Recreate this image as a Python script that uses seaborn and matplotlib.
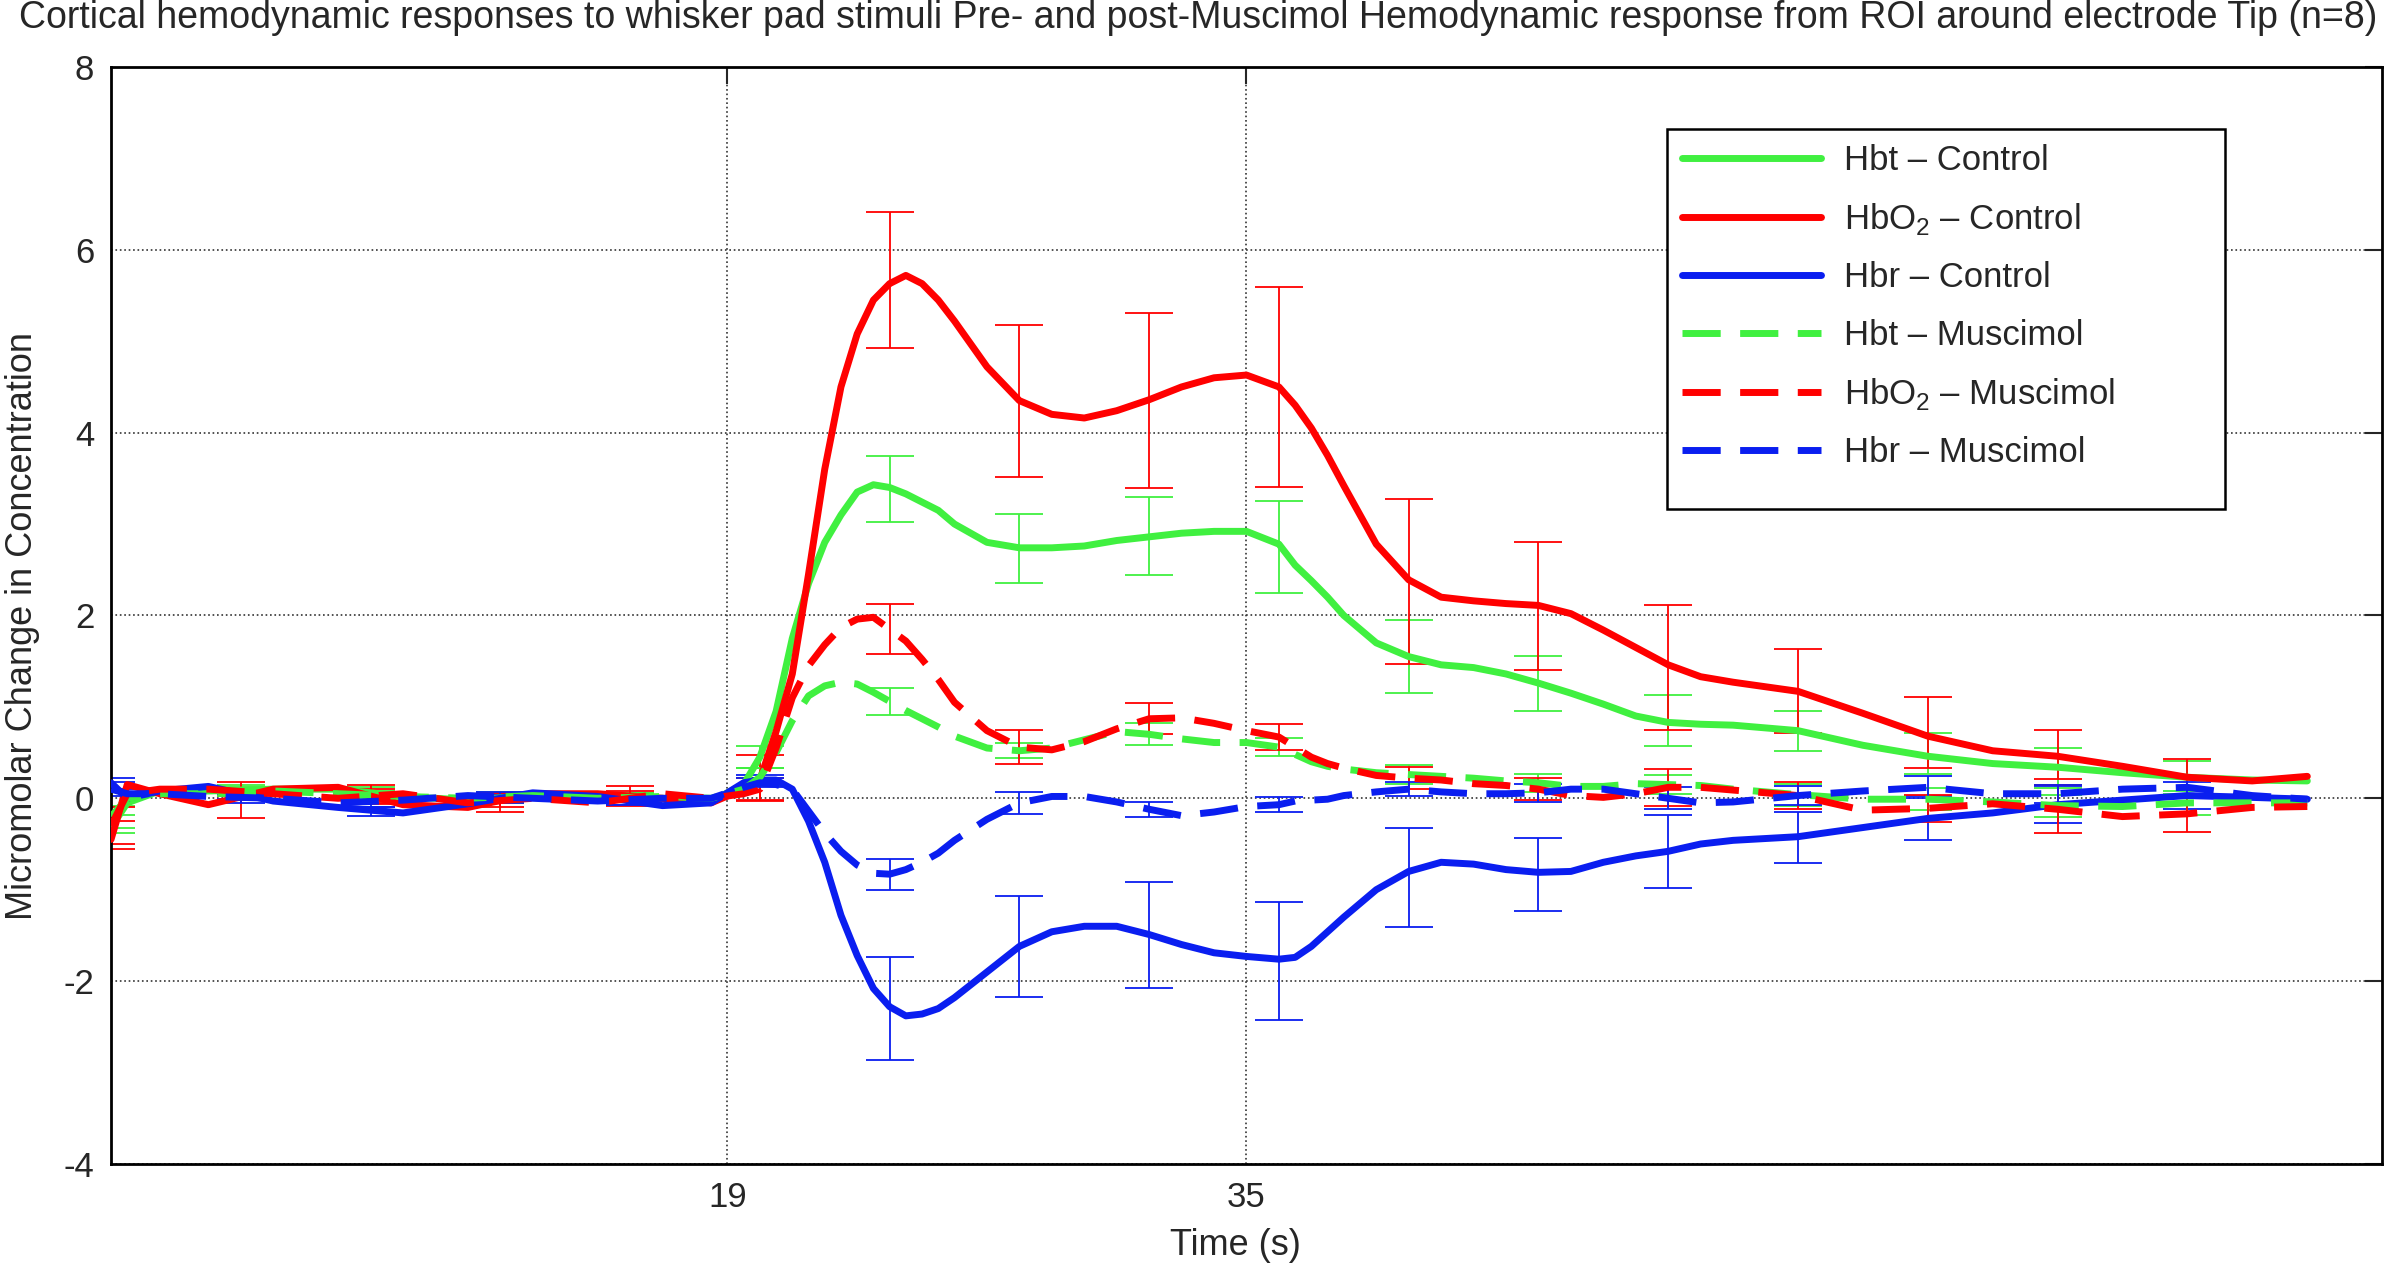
import numpy as np
import pandas as pd
import matplotlib
matplotlib.use('Agg')
import matplotlib.pyplot as plt
from matplotlib.patches import Rectangle
import seaborn as sns

# time grid (s) of the read-off curve points
t = [0, 0.5, 1.5, 3, 5, 7, 9, 11, 13, 15, 17, 18.5, 19.5, 20, 20.5, 21, 21.5, 22, 22.5, 23,
     23.5, 24, 24.5, 25, 25.5, 26, 27, 28, 29, 30, 31, 32, 33, 34, 35, 36, 36.5, 37, 37.5, 38,
     39, 40, 41, 42, 43, 44, 45, 46, 47, 48, 49, 50, 52, 54, 56, 58, 60, 62, 64, 66, 67.7]

hbo2_ctrl = [-0.45, 0.15, 0.05, -0.07, 0.1, 0.12, -0.07, -0.1, 0.05, 0.05, 0.0, -0.05, 0.1, 0.2, 0.73, 1.36,
             2.45, 3.6, 4.5, 5.08, 5.45, 5.63, 5.72, 5.63, 5.45, 5.22, 4.72, 4.35, 4.2, 4.16, 4.24, 4.36,
             4.5, 4.6, 4.63, 4.5, 4.3, 4.05, 3.75, 3.42, 2.78, 2.39, 2.2, 2.16, 2.13, 2.11, 2.02, 1.84,
             1.65, 1.46, 1.33, 1.27, 1.17, 0.93, 0.68, 0.52, 0.46, 0.35, 0.23, 0.19, 0.24]
hbt_ctrl = [-0.32, -0.05, 0.08, 0.08, 0.1, 0.1, 0.02, -0.02, 0.03, 0.02, 0.0, -0.03, 0.15, 0.45, 0.95, 1.75,
            2.35, 2.8, 3.1, 3.35, 3.43, 3.4, 3.33, 3.24, 3.15, 3.0, 2.8, 2.74, 2.74, 2.76, 2.82, 2.86,
            2.9, 2.92, 2.92, 2.78, 2.55, 2.38, 2.2, 2.0, 1.7, 1.55, 1.46, 1.43, 1.36, 1.26, 1.15, 1.03,
            0.9, 0.83, 0.81, 0.8, 0.74, 0.58, 0.46, 0.38, 0.34, 0.28, 0.23, 0.2, 0.19]
hbr_ctrl = [0.17, 0.0, 0.08, 0.13, -0.03, -0.1, -0.16, -0.06, 0.06, 0.02, -0.08, -0.05, 0.17, 0.2, 0.2, 0.1,
            -0.25, -0.7, -1.28, -1.72, -2.08, -2.28, -2.38, -2.36, -2.3, -2.18, -1.9, -1.62, -1.46, -1.4,
            -1.4, -1.49, -1.6, -1.69, -1.73, -1.76, -1.74, -1.62, -1.46, -1.3, -1.0, -0.8, -0.7, -0.72,
            -0.78, -0.81, -0.8, -0.7, -0.63, -0.58, -0.5, -0.46, -0.42, -0.32, -0.22, -0.16, -0.07, -0.02,
            0.03, 0.01, -0.01]
hbt_musc = [-0.2, 0.0, 0.05, 0.05, 0.08, 0.05, 0.02, 0.0, 0.03, 0.0, 0.02, 0.0, 0.1, 0.23, 0.5, 0.85,
            1.12, 1.23, 1.27, 1.25, 1.16, 1.06, 0.96, 0.87, 0.78, 0.68, 0.55, 0.52, 0.55, 0.64, 0.73, 0.7,
            0.65, 0.61, 0.61, 0.56, 0.48, 0.4, 0.35, 0.32, 0.28, 0.26, 0.24, 0.22, 0.19, 0.17, 0.13, 0.13,
            0.16, 0.15, 0.14, 0.1, 0.04, -0.01, -0.01, -0.04, -0.08, -0.09, -0.05, -0.05, -0.05]
hbo2_musc = [-0.3, 0.05, 0.1, 0.1, 0.05, 0.0, 0.05, -0.05, 0.0, -0.05, 0.05, 0.0, 0.05, 0.1, 0.55, 1.1,
             1.45, 1.68, 1.87, 1.96, 1.98, 1.85, 1.72, 1.52, 1.3, 1.05, 0.74, 0.56, 0.53, 0.62, 0.76, 0.87,
             0.88, 0.82, 0.74, 0.67, 0.56, 0.45, 0.38, 0.33, 0.25, 0.22, 0.2, 0.16, 0.14, 0.1, 0.03, 0.01,
             0.05, 0.12, 0.12, 0.09, 0.03, -0.13, -0.11, -0.06, -0.12, -0.2, -0.17, -0.1, -0.09]
hbr_musc = [0.1, 0.05, 0.05, 0.02, 0.0, -0.05, -0.02, 0.03, 0.0, -0.03, 0.0, 0.0, 0.12, 0.17, 0.15, 0.1,
            -0.14, -0.38, -0.58, -0.73, -0.82, -0.83, -0.78, -0.7, -0.6, -0.46, -0.23, -0.05, 0.02, 0.02,
            -0.04, -0.12, -0.19, -0.15, -0.09, -0.07, -0.03, -0.02, -0.01, 0.03, 0.07, 0.1, 0.07, 0.05,
            0.05, 0.06, 0.1, 0.1, 0.05, 0.0, -0.05, -0.04, 0.03, 0.08, 0.12, 0.05, 0.05, 0.1, 0.12, 0.03,
            -0.01]

# error bars every 4 s: mean and half-width
t_bar = [0, 4, 8, 12, 16, 20, 24, 28, 32, 36, 40, 44, 48, 52, 56, 60, 64]
hbt_ctrl_m = [-0.28, 0.09, 0.06, 0.0, 0.01, 0.45, 3.38, 2.73, 2.87, 2.75, 1.55, 1.26, 0.85, 0.74, 0.49, 0.33, 0.23]
hbt_ctrl_e = [0.1, 0.06, 0.06, 0.05, 0.05, 0.12, 0.36, 0.38, 0.43, 0.5, 0.4, 0.3, 0.28, 0.22, 0.22, 0.22, 0.18]
hbo2_ctrl_m = [-0.4, -0.1, 0.05, -0.05, 0.05, 0.22, 5.67, 4.35, 4.35, 4.5, 2.37, 2.1, 1.43, 1.17, 0.72, 0.48, 0.23]
hbo2_ctrl_e = [0.15, 0.12, 0.1, 0.1, 0.08, 0.25, 0.74, 0.83, 0.96, 1.09, 0.9, 0.7, 0.68, 0.46, 0.39, 0.27, 0.2]
hbr_ctrl_m = [0.16, 0.05, -0.14, 0.0, -0.02, 0.2, -2.3, -1.62, -1.5, -1.78, -0.87, -0.83, -0.58, -0.43, -0.22, -0.07, 0.03]
hbr_ctrl_e = [0.06, 0.06, 0.05, 0.05, 0.05, 0.06, 0.56, 0.55, 0.58, 0.65, 0.54, 0.4, 0.4, 0.28, 0.24, 0.2, 0.15]
hbt_musc_m = [-0.2, 0.07, 0.03, 0.02, 0.01, 0.23, 1.06, 0.52, 0.7, 0.56, 0.26, 0.17, 0.15, 0.04, -0.01, -0.08, -0.05]
hbt_musc_e = [0.12, 0.05, 0.05, 0.05, 0.05, 0.1, 0.15, 0.08, 0.12, 0.1, 0.1, 0.1, 0.1, 0.12, 0.12, 0.12, 0.13]
hbo2_musc_m = [-0.3, 0.08, 0.02, -0.02, 0.0, 0.1, 1.85, 0.56, 0.87, 0.67, 0.22, 0.1, 0.12, 0.03, -0.11, -0.12, -0.17]
hbo2_musc_e = [0.2, 0.1, 0.08, 0.08, 0.08, 0.12, 0.27, 0.19, 0.17, 0.14, 0.12, 0.12, 0.2, 0.15, 0.15, 0.26, 0.2]
hbr_musc_m = [0.1, 0.0, -0.04, 0.02, -0.02, 0.17, -0.83, -0.05, -0.12, -0.07, 0.1, 0.06, 0.0, 0.03, 0.12, 0.05, 0.12]
hbr_musc_e = [0.08, 0.05, 0.05, 0.05, 0.05, 0.05, 0.17, 0.12, 0.08, 0.08, 0.08, 0.1, 0.12, 0.1, 0.12, 0.1, 0.1]

labels = ['Hbt – Control', 'HbO$_2$ – Control', 'Hbr – Control',
          'Hbt – Muscimol', 'HbO$_2$ – Muscimol', 'Hbr – Muscimol']
title = ('Cortical hemodynamic responses to whisker pad stimuli Pre- and post-Muscimol '
         'Hemodynamic response from ROI around electrode Tip (n=8)')

GREEN, RED, BLUE = '#40f040', '#ff0000', '#0a1ef0'
DASH = (0, (5.5, 2.8))

sns.set_style('white')
plt.rcParams['font.family'] = ['Liberation Sans', 'DejaVu Sans']
plt.rcParams['mathtext.fontset'] = 'custom'
plt.rcParams['mathtext.rm'] = 'Liberation Sans'
plt.rcParams['axes.unicode_minus'] = False

fig = plt.figure(figsize=(23.98, 12.66), dpi=100)
ax = fig.add_axes([0.0463, 0.0806, 0.947, 0.8665])

series = [
    (hbt_ctrl, hbt_ctrl_m, hbt_ctrl_e, GREEN, '-'),
    (hbo2_ctrl, hbo2_ctrl_m, hbo2_ctrl_e, RED, '-'),
    (hbr_ctrl, hbr_ctrl_m, hbr_ctrl_e, BLUE, '-'),
    (hbt_musc, hbt_musc_m, hbt_musc_e, GREEN, DASH),
    (hbo2_musc, hbo2_musc_m, hbo2_musc_e, RED, DASH),
    (hbr_musc, hbr_musc_m, hbr_musc_e, BLUE, DASH),
]

handles = []
for (vals, m, e, col, ls), lab in zip(series, labels):
    d = pd.DataFrame({'time': t, 'conc': vals})
    sns.lineplot(x='time', y='conc', data=d, color=col, linestyle=ls, lw=5, ax=ax, zorder=3)
    handles.append(ax.lines[-1])
    ax.errorbar(t_bar, m, yerr=e, fmt='none', ecolor=col, elinewidth=1.3,
                capsize=17, capthick=1.3, zorder=2)

ax.set_xlim(0, 70)
ax.set_ylim(-4, 8)
ax.set_xticks([19, 35])
ax.set_yticks([-4, -2, 0, 2, 4, 6, 8])
ax.grid(True, color='#333333', linestyle=':', linewidth=1.2)
ax.tick_params(direction='in', length=12, width=1.5, labelsize=25, pad=12,
               top=True, right=True)
for s in ax.spines.values():
    s.set_color('black')
    s.set_linewidth(2)

ax.set_xlabel('Time (s)', fontsize=26, va='center')
ax.xaxis.set_label_coords(0.495, -0.074)
ax.set_ylabel('Micromolar Change in Concentration', fontsize=26, va='center')
ax.yaxis.set_label_coords(-0.039, 0.49)

# legend box drawn separately so its size matches the original frame
ax.add_patch(Rectangle((0.685, 0.597), 0.246, 0.346, transform=ax.transAxes,
                       facecolor='white', edgecolor='black', lw=1.8, zorder=4.5))
ax.legend(handles=handles, labels=labels, loc='upper left', bbox_to_anchor=(0.692, 0.93),
          fontsize=25, frameon=False, borderpad=0, borderaxespad=0,
          handlelength=4.0, handletextpad=0.65, labelspacing=0.7)

fig.text(0.4996, 0.986, title, ha='center', va='center', fontsize=27)

fig.savefig('out.png', dpi=100)
